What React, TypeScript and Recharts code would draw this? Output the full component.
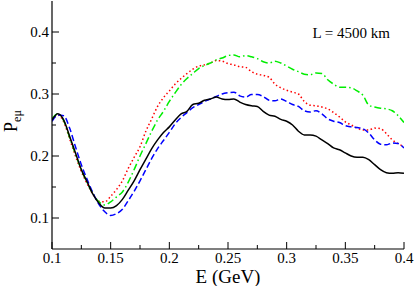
import React from 'react';
import { LineChart, Line, XAxis, YAxis } from 'recharts';

const energies = [
  0.1, 0.105, 0.11, 0.115, 0.12, 0.125, 0.13, 0.135, 0.14, 0.145,
  0.15, 0.155, 0.16, 0.165, 0.17, 0.175, 0.18, 0.185, 0.19, 0.195,
  0.2, 0.205, 0.21, 0.215, 0.22, 0.225, 0.23, 0.235, 0.24, 0.245,
  0.25, 0.255, 0.26, 0.265, 0.27, 0.275, 0.28, 0.285, 0.29, 0.295,
  0.3, 0.305, 0.31, 0.315, 0.32, 0.325, 0.33, 0.335, 0.34, 0.345,
  0.35, 0.355, 0.36, 0.365, 0.37, 0.375, 0.38, 0.385, 0.39, 0.395,
  0.4,
];

const black = [
  0.258, 0.268, 0.258, 0.232, 0.205, 0.178, 0.158, 0.138, 0.124, 0.116,
  0.116, 0.12, 0.13, 0.145, 0.16, 0.178, 0.195, 0.212, 0.226, 0.238,
  0.247, 0.258, 0.268, 0.272, 0.283, 0.285, 0.29, 0.292, 0.295, 0.292,
  0.291, 0.292, 0.287, 0.283, 0.281, 0.28, 0.272, 0.266, 0.264, 0.259,
  0.256, 0.25, 0.24, 0.234, 0.234, 0.232, 0.226, 0.22, 0.213, 0.21,
  0.205, 0.2, 0.198, 0.198, 0.194, 0.186, 0.178, 0.173, 0.172, 0.173,
  0.172,
];

const red = [
  0.258, 0.266, 0.255, 0.228, 0.2, 0.175, 0.155, 0.138, 0.127, 0.126,
  0.135, 0.146, 0.16, 0.18, 0.198, 0.215, 0.24, 0.26, 0.28, 0.294,
  0.305, 0.316, 0.325, 0.333, 0.34, 0.345, 0.347, 0.35, 0.354, 0.353,
  0.349, 0.347, 0.344, 0.343, 0.336, 0.332, 0.33, 0.327, 0.316, 0.31,
  0.306, 0.303, 0.3, 0.288, 0.282, 0.281, 0.279, 0.276, 0.27, 0.263,
  0.255, 0.25, 0.245, 0.242, 0.242, 0.245, 0.244, 0.236, 0.226, 0.22,
  0.215,
];

const green = [
  0.26, 0.268, 0.257, 0.23, 0.203, 0.178, 0.157, 0.139, 0.126, 0.121,
  0.126, 0.134, 0.142, 0.158, 0.178, 0.2, 0.22, 0.24, 0.258, 0.272,
  0.288, 0.302, 0.315, 0.325, 0.333, 0.341, 0.346, 0.35, 0.355, 0.358,
  0.362, 0.363, 0.36, 0.362, 0.36, 0.357, 0.352, 0.35, 0.353, 0.35,
  0.345, 0.34, 0.336, 0.332, 0.331, 0.334, 0.333, 0.323, 0.316, 0.311,
  0.311, 0.31, 0.305, 0.298, 0.282, 0.279, 0.277, 0.276, 0.273, 0.265,
  0.254,
];

const blue = [
  0.256, 0.266, 0.265, 0.245, 0.215, 0.186, 0.162, 0.14, 0.122, 0.11,
  0.104, 0.107, 0.114, 0.128, 0.143, 0.16, 0.178, 0.196, 0.212, 0.225,
  0.238, 0.252, 0.262, 0.27, 0.278, 0.283, 0.288, 0.292, 0.296, 0.3,
  0.302, 0.303, 0.297, 0.295, 0.299, 0.299, 0.296, 0.29, 0.289, 0.292,
  0.288, 0.283, 0.28, 0.273, 0.271, 0.273, 0.268, 0.26, 0.256, 0.254,
  0.249, 0.247, 0.246, 0.244, 0.237, 0.226, 0.219, 0.218, 0.221, 0.22,
  0.213,
];

const xTicks = [0.1, 0.125, 0.15, 0.175, 0.2, 0.225, 0.25, 0.275, 0.3, 0.325, 0.35, 0.375, 0.4];
const xLabeled = [0.1, 0.15, 0.2, 0.25, 0.3, 0.35, 0.4];
const yTicks = [0.1, 0.15, 0.2, 0.25, 0.3, 0.35, 0.4];
const yLabeled = [0.1, 0.2, 0.3, 0.4];

const data = energies.map((E, i) => ({ E, black: black[i], red: red[i], green: green[i], blue: blue[i] }));

// times-like serif, as in the original plot
const serif = { fontFamily: "'Liberation Serif', 'Times New Roman', 'DejaVu Serif', serif" };
const MAJOR = 7;
const MINOR = 4;

const BottomTick = ({ x, y, payload }: any) => {
  const major = xLabeled.includes(payload.value);
  return (
    <g>
      <line x1={x} y1={y} x2={x} y2={y - (major ? MAJOR : MINOR)} stroke="#000" />
      {major && (
        <text x={x} y={y + 14} textAnchor="middle" fontSize={15} style={serif} fill="#000">
          {payload.value}
        </text>
      )}
    </g>
  );
};

const TopTick = ({ x, y, payload }: any) => {
  const major = xLabeled.includes(payload.value);
  return <line x1={x} y1={y} x2={x} y2={y + (major ? MAJOR : MINOR)} stroke="#000" />;
};

const LeftTick = ({ x, y, payload }: any) => {
  const major = yLabeled.includes(payload.value);
  return (
    <g>
      <line x1={x} y1={y} x2={x + (major ? MAJOR : MINOR)} y2={y} stroke="#000" />
      {major && (
        <text x={x - 3} y={y + 5} textAnchor="end" fontSize={15} style={serif} fill="#000">
          {payload.value}
        </text>
      )}
    </g>
  );
};

const RightTick = ({ x, y, payload }: any) => {
  const major = yLabeled.includes(payload.value);
  return <line x1={x} y1={y} x2={x - (major ? MAJOR : MINOR)} y2={y} stroke="#000" />;
};

export default function App() {
  return (
    <div style={{ position: 'absolute', left: 0, top: 0, width: 415, height: 286 }}>
      <LineChart width={415} height={286} data={data} margin={{ top: 1, right: 11, left: 0, bottom: 0 }}>
        <XAxis
          dataKey="E"
          type="number"
          domain={[0.1, 0.4]}
          ticks={xTicks}
          interval={0}
          height={37}
          tickSize={0}
          tickMargin={0}
          tickLine={false}
          tick={<BottomTick />}
          axisLine={{ stroke: '#000', strokeWidth: 1.2 }}
          allowDataOverflow
        />
        <XAxis
          xAxisId="top"
          orientation="top"
          type="number"
          domain={[0.1, 0.4]}
          ticks={xTicks}
          interval={0}
          height={0}
          tickSize={0}
          tickMargin={0}
          tickLine={false}
          tick={<TopTick />}
          axisLine={{ stroke: '#000', strokeWidth: 1.2 }}
        />
        <YAxis
          type="number"
          domain={[0.05, 0.45]}
          ticks={yTicks}
          interval={0}
          width={52}
          tickSize={0}
          tickMargin={0}
          tickLine={false}
          tick={<LeftTick />}
          axisLine={{ stroke: '#000', strokeWidth: 1.2 }}
          allowDataOverflow
        />
        <YAxis
          yAxisId="right"
          orientation="right"
          type="number"
          domain={[0.05, 0.45]}
          ticks={yTicks}
          interval={0}
          width={0}
          tickSize={0}
          tickMargin={0}
          tickLine={false}
          tick={<RightTick />}
          axisLine={{ stroke: '#000', strokeWidth: 1.2 }}
        />
        <Line type="monotone" dataKey="red" stroke="#ff0000" strokeWidth={1.5} strokeDasharray="1.5 2.5" dot={false} isAnimationActive={false} />
        <Line type="monotone" dataKey="green" stroke="#00ee00" strokeWidth={1.5} strokeDasharray="7 3 1.5 3" dot={false} isAnimationActive={false} />
        <Line type="monotone" dataKey="blue" stroke="#0000ff" strokeWidth={1.5} strokeDasharray="6 3" dot={false} isAnimationActive={false} />
        <Line type="monotone" dataKey="black" stroke="#000" strokeWidth={1.5} dot={false} isAnimationActive={false} />
      </LineChart>
      <svg width={415} height={286} style={{ position: 'absolute', left: 0, top: 0, pointerEvents: 'none' }}>
        <text x={390} y={38} textAnchor="end" fontSize={15} style={serif} fill="#000">
          L = 4500 km
        </text>
        <text x={228} y={283} textAnchor="middle" fontSize={19} style={serif} fill="#000">
          E (GeV)
        </text>
        <text transform="translate(17,121) rotate(-90)" textAnchor="middle" fontSize={18} style={serif} fill="#000">
          P
          <tspan fontSize={12} dy={4}>eμ</tspan>
        </text>
      </svg>
    </div>
  );
}
